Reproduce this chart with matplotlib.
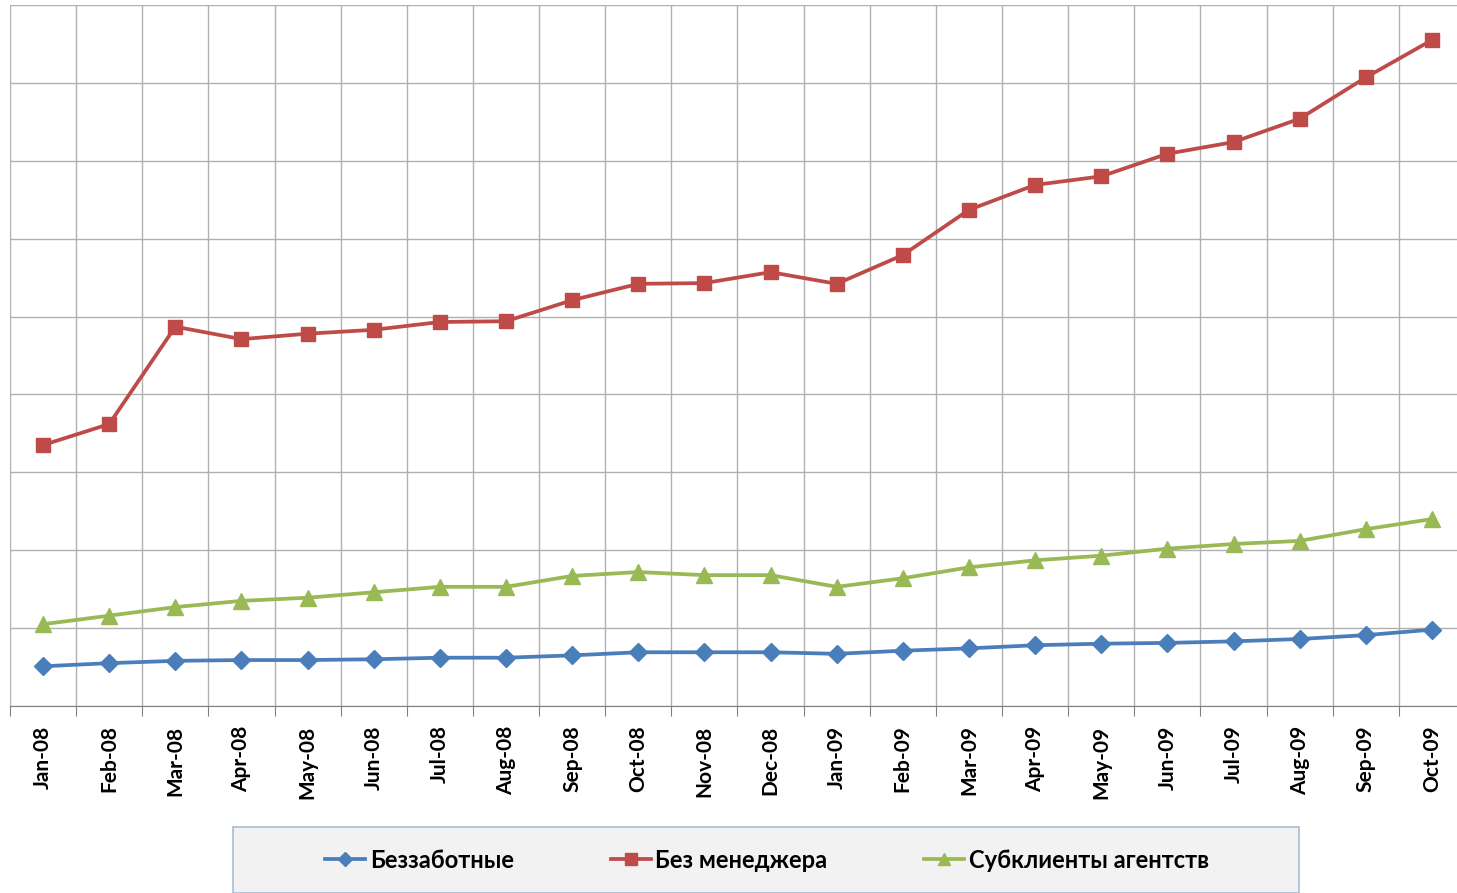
import matplotlib.pyplot as plt
from matplotlib.patches import Rectangle
import numpy as np

# data (one grid step = 10 units)
months = ['Jan-08', 'Feb-08', 'Mar-08', 'Apr-08', 'May-08', 'Jun-08', 'Jul-08', 'Aug-08',
          'Sep-08', 'Oct-08', 'Nov-08', 'Dec-08', 'Jan-09', 'Feb-09', 'Mar-09', 'Apr-09',
          'May-09', 'Jun-09', 'Jul-09', 'Aug-09', 'Sep-09', 'Oct-09']
carefree = [5.1, 5.5, 5.8, 5.9, 5.9, 6.0, 6.2, 6.2, 6.5, 6.9, 6.9, 6.9,
            6.7, 7.1, 7.4, 7.8, 8.0, 8.1, 8.3, 8.6, 9.1, 9.8]
no_manager = [33.5, 36.2, 48.7, 47.1, 47.8, 48.3, 49.3, 49.4, 52.1, 54.2, 54.3, 55.7,
              54.2, 57.9, 63.7, 66.9, 68.0, 70.9, 72.4, 75.4, 80.7, 85.5]
subclients = [10.5, 11.6, 12.7, 13.5, 13.9, 14.6, 15.3, 15.3, 16.7, 17.2, 16.8, 16.8,
              15.3, 16.4, 17.8, 18.7, 19.3, 20.2, 20.8, 21.2, 22.7, 24.0]
names = ['Беззаботные', 'Без менеджера', 'Субклиенты агентств']

plt.rcParams['font.family'] = ['Lato', 'DejaVu Sans']

W, H = 1457, 893
fig = plt.figure(figsize=(W / 100, H / 100), dpi=100)
ax = fig.add_axes([10 / W, 1 - 706 / H, 1455 / W, 701 / H])

x = np.arange(len(months))
ax.plot(x, carefree, color='#4A7EBB', lw=2.7, marker='D', ms=9, label=names[0])
ax.plot(x, no_manager, color='#BE4B48', lw=2.7, marker='s', ms=10.5, label=names[1])
ax.plot(x, subclients, color='#98B954', lw=2.7, marker='^', ms=11, label=names[2])

ax.set_xlim(-0.5, len(months) - 0.5)
ax.set_ylim(0, 90)
ax.set_yticks(np.arange(0, 91, 10))
ax.set_yticklabels([])
ax.tick_params(axis='y', length=0)
ax.set_xticks(np.arange(-0.5, len(months), 1), minor=False)
ax.set_xticklabels([])
ax.set_xticks(x, minor=True)
ax.set_xticklabels(months, minor=True, rotation=90, fontsize=15, fontweight='bold')
ax.tick_params(axis='x', which='major', length=7, color='#808080', direction='out')
ax.tick_params(axis='x', which='minor', length=0, pad=14)
ax.grid(True, which='major', color='#b0b0b0', lw=1.0)
ax.set_axisbelow(True)
for s in ['top', 'right', 'left']:
    ax.spines[s].set_visible(False)
ax.spines['bottom'].set_color('#808080')

# legend box
fig.patches.append(Rectangle((233 / W, 0), (1299 - 233) / W, (H - 827) / H,
                             transform=fig.transFigure, facecolor='#f2f2f2',
                             edgecolor='#a9bcd4', lw=1.2, zorder=0))
fig.legend(loc='center', bbox_to_anchor=(767 / W, 1 - 860 / H), ncol=3, frameon=False,
           prop={'weight': 'bold', 'size': 17}, handlelength=1.7, columnspacing=4.1,
           handletextpad=0.2, markerscale=0.8)

fig.savefig('out.png', dpi=100)
